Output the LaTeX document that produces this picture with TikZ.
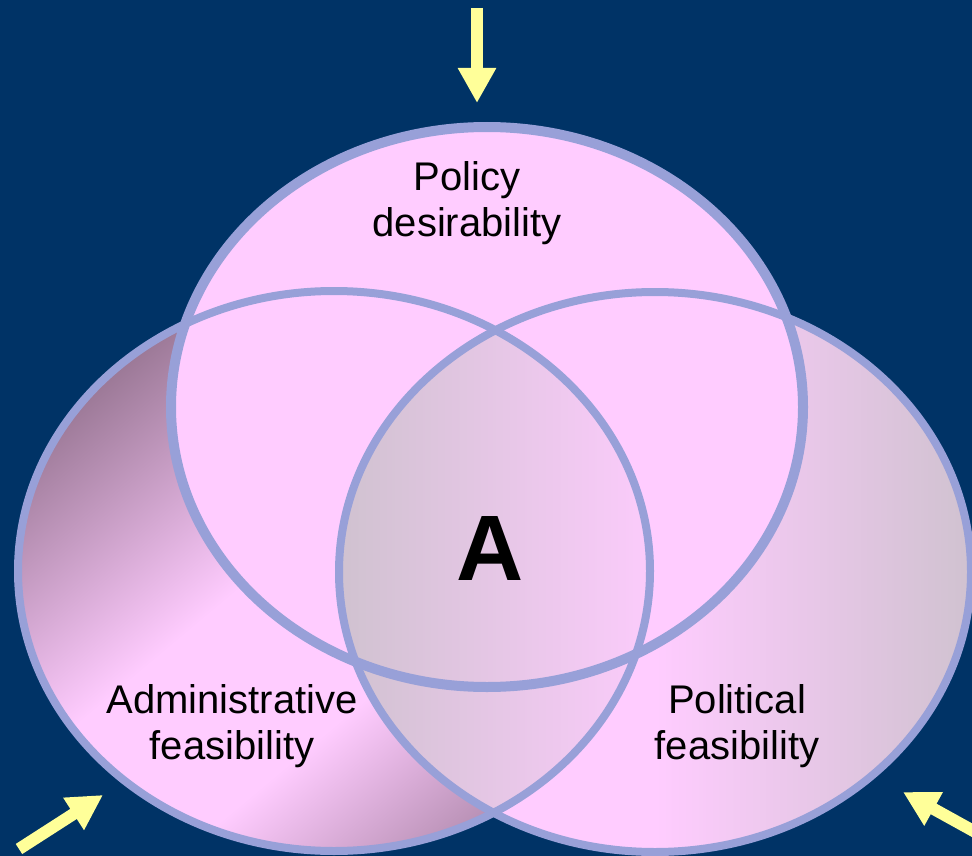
\documentclass[tikz,border=0pt]{standalone}
\usepackage{fontspec}
\setmainfont{Liberation Sans}
\usetikzlibrary{arrows.meta}
\definecolor{navy}{HTML}{003366}
\definecolor{rim}{RGB}{152,160,216}
\definecolor{petal}{HTML}{FFCCFF}
\definecolor{mauve}{RGB}{155,120,150}
\definecolor{haze}{RGB}{208,194,208}
\definecolor{pale}{HTML}{FFFF99}
\pgfdeclareverticalshading{adminshade}{100bp}{color(0bp)=(mauve); color(20bp)=(mauve); color(40bp)=(petal); color(54bp)=(petal); color(75bp)=(mauve); color(100bp)=(mauve)}

\begin{document}
\begin{tikzpicture}[x=1pt,y=-1pt,
  rimline/.style={draw=rim,line width=8pt},
  pointer/.style={draw=pale,line width=12pt,-{Triangle[length=35pt,width=36pt]}},
  settext/.style={font=\fontsize{40}{46}\selectfont,align=center,text=black}]
\fill[navy] (0,0) rectangle (972,856);
\useasboundingbox (0,0) rectangle (972,856);

\shade[shading=adminshade,shading angle=40] (334,571) ellipse [x radius=316,y radius=280];
\shade[left color=petal,right color=haze,middle color=petal] (655,572) ellipse [x radius=316,y radius=280];
\fill[petal] (487,407) ellipse [x radius=316,y radius=280];
\begin{scope}
\clip (334,571) ellipse [x radius=316,y radius=280];
\clip (655,572) ellipse [x radius=316,y radius=280];
\shade[left color=haze,right color=petal!92!haze] (340,290) rectangle (652,815);
\end{scope}

\draw[rimline] (334,571) ellipse [x radius=316,y radius=280];
\draw[rimline,line width=10pt] (487,407) ellipse [x radius=316,y radius=280];
\draw[rimline] (655,572) ellipse [x radius=316,y radius=280];

\node[settext] (policy) at (467,203) {Policy\\desirability};
\node[settext] (admin) at (232,726) {Administrative\\feasibility};
\node[settext] (politics) at (737,726) {Political\\feasibility};
\node[font=\fontsize{93}{100}\selectfont\bfseries] (core) at (490,549) {A};

\coordinate (topTail) at (477,8);
\coordinate (topTip) at (477,103);
\coordinate (leftTail) at (19,849);
\coordinate (leftTip) at (103,795);
\coordinate (rightTail) at (997,844);
\coordinate (rightTip) at (903,792);
\draw[pointer] (topTail) -- (topTip);
\draw[pointer] (leftTail) -- (leftTip);
\draw[pointer] (rightTail) -- (rightTip);
\end{tikzpicture}
\end{document}
